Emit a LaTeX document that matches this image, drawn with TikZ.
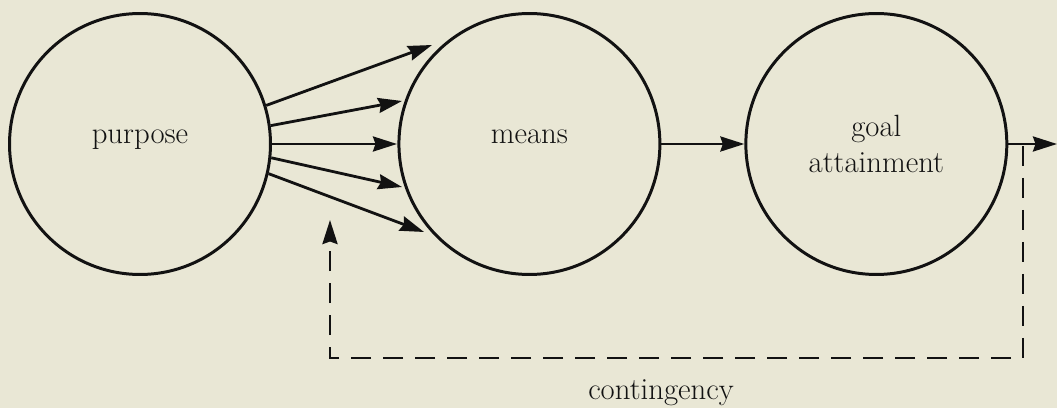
\documentclass[tikz,border=0pt]{standalone}
\usepackage{tikz}
\usetikzlibrary{arrows.meta, positioning}

\definecolor{paper}{RGB}{233,231,213}
\definecolor{ink}{RGB}{18,18,18}

\begin{document}
\begin{tikzpicture}[
        x=0.02cm, y=-0.02cm,
        node distance=2.5cm,
        stage/.style={circle, draw=ink, line width=1.7pt, minimum size=5.22cm, inner sep=0pt, align=center,
            text=ink, font=\fontsize{17.5}{20.5}\selectfont, text height=1.6ex, text depth=1.6ex},
        note/.style={text=ink, font=\fontsize{17.5}{20.5}\selectfont},
        arrow/.style={-{Stealth[length=4.8mm, width=3mm, inset=0.5mm]}, line width=1.6pt, color=ink},
        feedback/.style={arrow, dash pattern=on 0.4cm off 0.24cm}
    ]
        \useasboundingbox (0,0) rectangle (1057,408);
        \fill[paper] (0,0) rectangle (1057,408);

        \node[stage] (purpose) at (140,144) {purpose};
        \node[stage, right=2.51cm of purpose] (means) {means};
        \node[stage, right=1.66cm of means, text height=, text depth=] (goal) {goal\\attainment};

        % free ends of the fan of arrows
        \coordinate (t1) at (432,45);
        \coordinate (t2) at (402,101);
        \coordinate (t3) at (397,144);
        \coordinate (t4) at (402,187);
        \coordinate (t5) at (424,232);
        \draw[arrow] (purpose.17) -- (t1);
        \draw[arrow] (purpose.8) -- (t2);
        \draw[arrow] (purpose.0) -- (t3);
        \draw[arrow] (purpose.-6) -- (t4);
        \draw[arrow] (purpose.-13) -- (t5);

        \draw[arrow] (means) -- (goal);

        \coordinate (out) at (1057,144);
        \draw[arrow] (goal) -- (out);

        % contingency loop
        \coordinate (tap) at (1023,146);
        \coordinate (low) at (330,358);
        \coordinate (back) at (330,220);
        \draw[feedback] (tap) |- (low) -- (back);
        \node[note, anchor=base] (cont) at (661,399) {contingency};
    \end{tikzpicture}
\end{document}
